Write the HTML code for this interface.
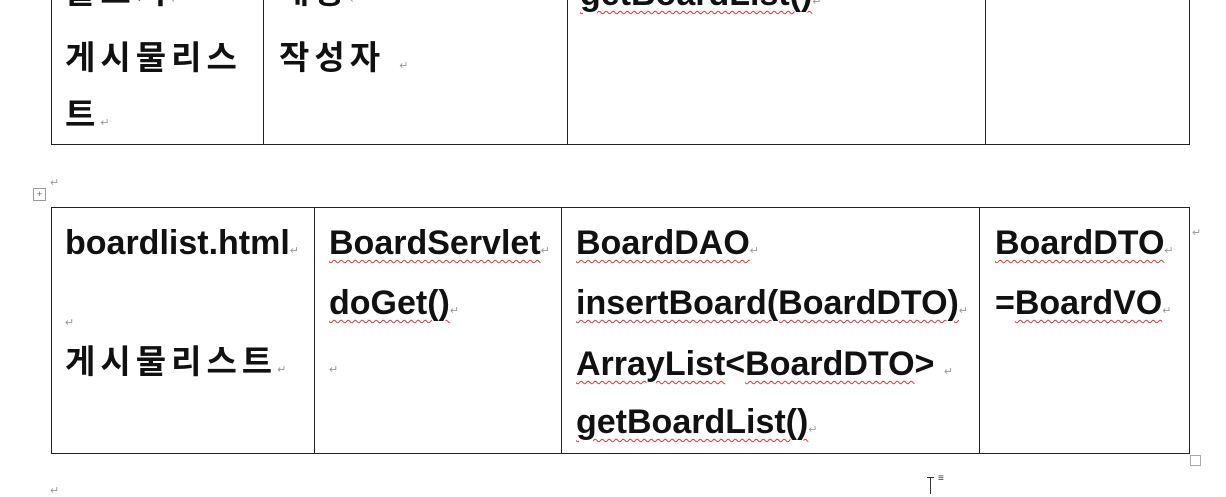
<!DOCTYPE html>
<html><head><meta charset="utf-8"><style>
body{margin:0;width:1226px;height:494px;background:#fff;position:relative;overflow:hidden;font-family:"Liberation Sans","Noto Sans CJK KR",sans-serif;font-weight:bold;color:#111}
.l{position:absolute;background:#222}
.t{position:absolute;font-size:34px;white-space:nowrap;line-height:1}
.k{position:absolute;font-size:33px;letter-spacing:5px;white-space:nowrap;line-height:1}
.w{text-decoration:underline wavy #e03040 1px;text-underline-offset:5px}
.m{font-size:11px;color:#999;font-weight:normal;letter-spacing:0}
</style></head><body>
<!-- top table -->
<div class="l" style="left:51px;top:0;width:1px;height:145px"></div>
<div class="l" style="left:263px;top:0;width:1px;height:145px"></div>
<div class="l" style="left:567px;top:0;width:1px;height:145px"></div>
<div class="l" style="left:985px;top:0;width:1px;height:145px"></div>
<div class="l" style="left:1189px;top:0;width:1px;height:145px"></div>
<div class="l" style="left:51px;top:144px;width:1139px;height:1px"></div>
<div class="k" style="left:65px;top:-25px">블로거<span class="m">↵</span></div>
<div class="k" style="left:279px;top:-25px">내용<span class="m">↵</span></div>
<div class="t" style="left:580px;top:-23px"><span class="w">getBoardList()</span><span class="m">↵</span></div>
<div class="k" style="left:65px;top:41px">게시물리스</div>
<div class="k" style="left:65px;top:98px">트<span class="m">↵</span></div>
<div class="k" style="left:279px;top:41px">작성자 <span class="m">↵</span></div>
<div style="position:absolute;left:33px;top:188px;width:11px;height:11px;border:1px solid #999;font-size:9px;line-height:11px;text-align:center;color:#666;font-weight:normal">+</div>
<div class="t m" style="left:50px;top:178px">↵</div>
<!-- bottom table -->
<div class="l" style="left:51px;top:207px;width:1139px;height:1px"></div>
<div class="l" style="left:51px;top:453px;width:1139px;height:1px"></div>
<div class="l" style="left:51px;top:207px;width:1px;height:247px"></div>
<div class="l" style="left:314px;top:207px;width:1px;height:247px"></div>
<div class="l" style="left:561px;top:207px;width:1px;height:247px"></div>
<div class="l" style="left:979px;top:207px;width:1px;height:247px"></div>
<div class="l" style="left:1189px;top:207px;width:1px;height:247px"></div>
<div class="t" style="left:65px;top:226px">boardlist.html<span class="m">↵</span></div>
<div class="t m" style="left:65px;top:318px">↵</div>
<div class="k" style="left:65px;top:345px">게시물리스트<span class="m">↵</span></div>
<div class="t" style="left:329px;top:226px"><span class="w">BoardServlet</span><span class="m">↵</span></div>
<div class="t" style="left:329px;top:286px"><span class="w">doGet()</span><span class="m">↵</span></div>
<div class="t m" style="left:329px;top:365px">↵</div>
<div class="t" style="left:576px;top:226px"><span class="w">BoardDAO</span><span class="m">↵</span></div>
<div class="t" style="left:576px;top:286px"><span class="w">insertBoard(BoardDTO)</span><span class="m">↵</span></div>
<div class="t" style="left:576px;top:347px"><span class="w">ArrayList</span>&lt;<span class="w">BoardDTO</span>&gt; <span class="m">↵</span></div>
<div class="t" style="left:576px;top:405px"><span class="w">getBoardList()</span><span class="m">↵</span></div>
<div class="t" style="left:995px;top:226px"><span class="w">BoardDTO</span><span class="m">↵</span></div>
<div class="t" style="left:995px;top:286px">=<span class="w">BoardVO</span><span class="m">↵</span></div>
<div class="t m" style="left:1192px;top:228px">↵</div>
<div style="position:absolute;left:1190px;top:455px;width:9px;height:9px;border:1px solid #aaa"></div>
<div class="t m" style="left:50px;top:486px">↵</div>
<div style="position:absolute;left:930px;top:477px;width:1px;height:17px;background:#333"></div>
<div style="position:absolute;left:927px;top:477px;width:7px;height:1px;background:#333"></div>
<div class="t m" style="left:938px;top:474px;font-size:10px;color:#333">≡</div>
</body></html>
